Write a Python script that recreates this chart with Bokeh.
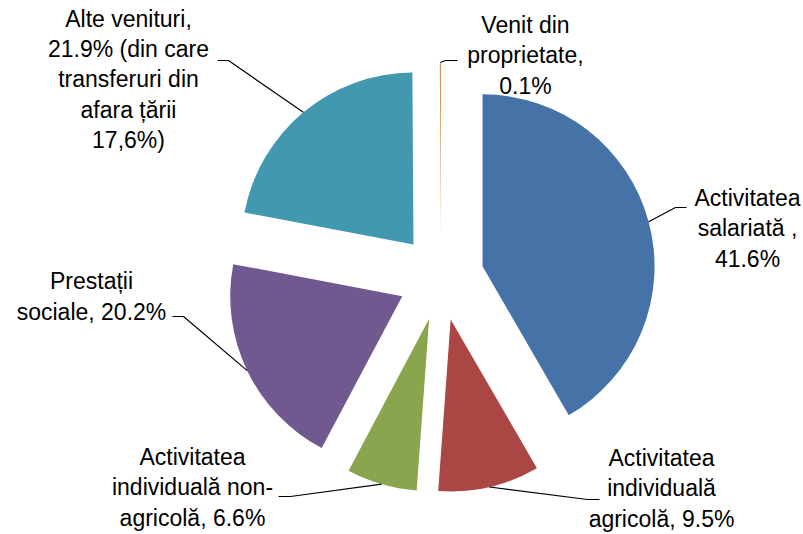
import numpy as np
from bokeh.plotting import figure
from bokeh.models import Range1d, ColumnDataSource
from bokeh.core.properties import value
from bokeh.embed import file_html
from bokeh.resources import INLINE

# ---- data ----
categories = ["Activitatea salariată", "Activitatea individuală agricolă",
              "Activitatea individuală non-agricolă", "Prestații sociale",
              "Alte venituri", "Venit din proprietate"]
shares = [41.6, 9.5, 6.6, 20.2, 21.9, 0.1]
label_texts = ["Activitatea\nsalariată ,\n41.6%",
               "Activitatea\nindividuală\nagricolă, 9.5%",
               "Activitatea\nindividuală non-\nagricolă, 6.6%",
               "Prestații\nsociale, 20.2%",
               "Alte venituri,\n21.9% (din care\ntransferuri din\nafara țării\n17,6%)",
               "Venit din\nproprietate,\n0.1%"]
colors = ["#4572A7", "#AA4643", "#89A54E", "#71588F", "#4198AF", "#DB843D"]

# ---- layout (x right, y = -pixel row) ----
CX, CY = 440.5, -277.0
R = 172.0
EXPLODE = 43.0
label_pos = [(747, -228), (661, -488), (192, -487), (91, -296), (128, -79), (525, -55)]
elbows = [(675, -207), (587, -499), (290, -496), (183, -316), (228, -60), (445, -60)]
ends = [(686, -207), (599, -499), (278, -496), (172, -316), (217, -60), (457, -60)]

vals = np.array(shares, dtype=float)
frac = vals / vals.sum()
theta_end = np.cumsum(frac) * 2 * np.pi          # clockwise from 12 o'clock
theta_start = theta_end - frac * 2 * np.pi
theta_mid = (theta_start + theta_end) / 2

wx = CX + EXPLODE * np.sin(theta_mid)
wy = CY + EXPLODE * np.cos(theta_mid)

src = ColumnDataSource(dict(
    x=wx, y=wy,
    start=np.pi / 2 - theta_start,
    end=np.pi / 2 - theta_end,
    color=colors, name=categories,
))

p = figure(width=803, height=534, output_backend="svg", toolbar_location=None,
           x_range=Range1d(0, 803), y_range=Range1d(-534, 0), min_border=0)
p.axis.visible = False
p.grid.visible = False
p.outline_line_color = None
p.background_fill_color = "white"
p.border_fill_color = "white"

p.wedge(x="x", y="y", radius=R, start_angle="start", end_angle="end",
        direction="clock", fill_color="color", line_color=None, source=src)

# leader lines: from mid-arc of each exploded slice to elbow then to text
xs, ys = [], []
for i in range(len(shares)):
    ax = wx[i] + R * np.sin(theta_mid[i])
    ay = wy[i] + R * np.cos(theta_mid[i])
    xs.append([ax, elbows[i][0], ends[i][0]])
    ys.append([ay, elbows[i][1], ends[i][1]])
p.multi_line(xs=xs, ys=ys, line_color="black", line_width=1.2)

p.text(x=[lp[0] for lp in label_pos], y=[lp[1] for lp in label_pos], text=label_texts,
       text_align="center", text_baseline="middle",
       text_font=value("Liberation Sans"), text_font_size="23px",
       text_color="black", text_line_height=1.17)

open("out.html", "w").write(file_html(p, INLINE))
